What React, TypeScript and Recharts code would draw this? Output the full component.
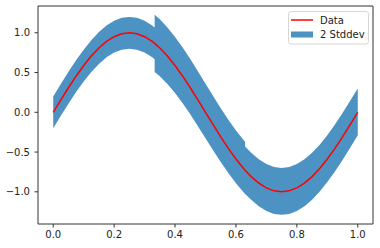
import { Area, ComposedChart, Line, ReferenceLine, XAxis, YAxis } from "recharts";

// sample positions (0.333 and 0.63 are repeated where the band jumps)
const xs = [
  0, 0.025, 0.05, 0.075, 0.1, 0.125, 0.15, 0.175, 0.2, 0.225, 0.25, 0.275, 0.3, 0.325, 0.333,
  0.333, 0.35, 0.375, 0.4, 0.425, 0.45, 0.475, 0.5, 0.525, 0.55, 0.575, 0.6, 0.625, 0.63,
  0.63, 0.65, 0.675, 0.7, 0.725, 0.75, 0.775, 0.8, 0.825, 0.85, 0.875, 0.9, 0.925, 0.95, 0.975, 1,
];

const dataY = [
  0, 0.156, 0.309, 0.454, 0.588, 0.707, 0.809, 0.891, 0.951, 0.988, 1, 0.988, 0.951, 0.891, 0.866,
  0.866, 0.809, 0.707, 0.588, 0.454, 0.309, 0.156, 0, -0.156, -0.309, -0.454, -0.588, -0.707, -0.729,
  -0.729, -0.809, -0.891, -0.951, -0.988, -1, -0.988, -0.951, -0.891, -0.809, -0.707, -0.588, -0.454, -0.309, -0.156, 0,
];

const bandLow = [
  -0.2, -0.044, 0.109, 0.254, 0.388, 0.507, 0.609, 0.691, 0.751, 0.788, 0.8, 0.788, 0.751, 0.691, 0.666,
  0.506, 0.454, 0.357, 0.243, 0.114, -0.026, -0.174, -0.325, -0.476, -0.624, -0.764, -0.893, -1.007, -1.029,
  -1.029, -1.099, -1.181, -1.241, -1.278, -1.29, -1.278, -1.241, -1.181, -1.099, -0.997, -0.878, -0.744, -0.599, -0.446, -0.29,
];

const bandHigh = [
  0.2, 0.356, 0.509, 0.654, 0.788, 0.907, 1.009, 1.091, 1.151, 1.188, 1.2, 1.188, 1.151, 1.091, 1.066,
  1.226, 1.169, 1.067, 0.948, 0.814, 0.669, 0.516, 0.36, 0.204, 0.051, -0.094, -0.228, -0.347, -0.369,
  -0.429, -0.509, -0.591, -0.651, -0.688, -0.7, -0.688, -0.651, -0.591, -0.509, -0.407, -0.288, -0.154, -0.009, 0.144, 0.3,
];

const xTicks = [0, 0.2, 0.4, 0.6, 0.8, 1];
const yTicks = [-1, -0.5, 0, 0.5, 1];

const X_DOMAIN = [-0.05, 1.05];
const Y_DOMAIN = [-1.405, 1.337];

const data = xs.map((x, i) => ({
  x,
  y: dataY[i],
  band: [bandLow[i], bandHigh[i]],
}));

const fmt = (v: number) => (v < 0 ? "\u2212" + Math.abs(v).toFixed(1) : v.toFixed(1));

const tickStyle = { fontFamily: "DejaVu Sans", fontSize: 10, fill: "#222" };
const spine = "#333";

export default function App() {
  return (
    <div style={{ position: "absolute", left: 0, top: 0, width: 380, height: 248, background: "#fff" }}>
      <ComposedChart width={380} height={248} data={data} margin={{ top: 6, right: 7, left: 0, bottom: 0 }}>
        <XAxis
          dataKey="x"
          type="number"
          domain={X_DOMAIN}
          ticks={xTicks}
          tickFormatter={fmt}
          allowDataOverflow
          height={24}
          tickSize={3.5}
          tickMargin={3.5}
          tick={tickStyle}
          stroke={spine}
        />
        <YAxis
          type="number"
          domain={Y_DOMAIN}
          ticks={yTicks}
          tickFormatter={fmt}
          allowDataOverflow
          width={38}
          tickSize={3.5}
          tickMargin={4.5}
          tick={tickStyle}
          stroke={spine}
        />
        <Area
          dataKey="band"
          type="linear"
          stroke="none"
          fill="#1f77b4"
          fillOpacity={0.8}
          isAnimationActive={false}
        />
        <Line
          dataKey="y"
          type="linear"
          stroke="#ff0000"
          strokeWidth={1.5}
          dot={false}
          isAnimationActive={false}
        />
        <ReferenceLine y={Y_DOMAIN[1]} stroke={spine} ifOverflow="visible" />
        <ReferenceLine x={X_DOMAIN[1]} stroke={spine} ifOverflow="visible" />
      </ComposedChart>
      <svg
        width={82}
        height={35}
        style={{ position: "absolute", left: 288, top: 11 }}
        fontFamily="DejaVu Sans"
        fontSize={10}
      >
        <rect x={0.5} y={0.5} width={80} height={32.5} rx={2.5} fill="#fff" fillOpacity={0.8} stroke="#d6d6d6" />
        <line x1={3} x2={25} y1={9} y2={9} stroke="#ff0000" strokeWidth={1.5} />
        <text x={32} y={12.6} fill="#222">Data</text>
        <rect x={3} y={20.5} width={22} height={6} fill="#1f77b4" fillOpacity={0.8} />
        <text x={32} y={27} fill="#222">2 Stddev</text>
      </svg>
    </div>
  );
}
